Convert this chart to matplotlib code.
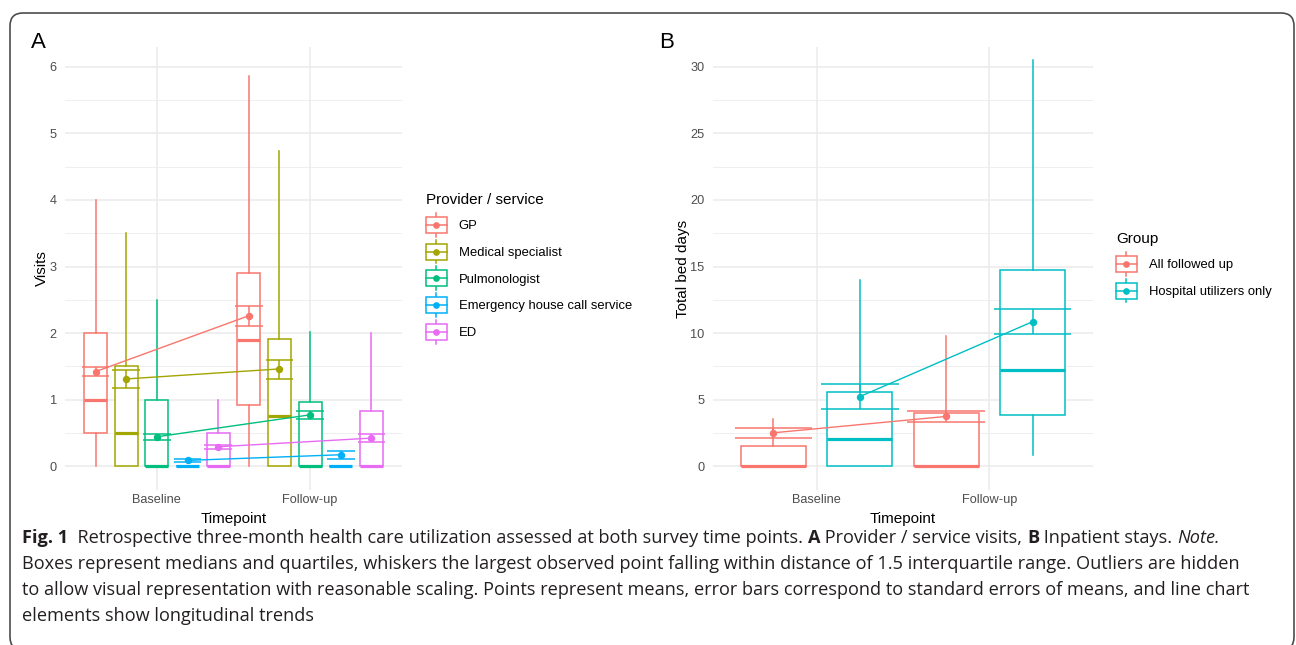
import numpy as np
import matplotlib
matplotlib.use('Agg')
import matplotlib.pyplot as plt
from matplotlib.patches import Rectangle, FancyBboxPatch
from matplotlib.lines import Line2D
from matplotlib.legend_handler import HandlerBase
from matplotlib.transforms import IdentityTransform

plt.rcParams['font.family'] = ['Liberation Sans', 'DejaVu Sans']

# данные: панель A (визиты)
timepoints = ['Baseline', 'Follow-up']
providers = ['GP', 'Medical specialist', 'Pulmonologist', 'Emergency house call service', 'ED']
colors_a = ['#F8766D', '#A3A500', '#00BF7D', '#00B0F6', '#E76BF3']
# [группа][baseline, follow-up]
a_whislo = [[0, 0], [0, 0], [0, 0], [0, 0], [0, 0]]
a_q1 = [[0.5, 0.92], [0, 0], [0, 0], [0, 0], [0, 0]]
a_med = [[1.0, 1.89], [0.5, 0.76], [0, 0], [0, 0], [0, 0]]
a_q3 = [[2.0, 2.9], [1.5, 1.91], [1.0, 0.97], [0, 0], [0.5, 0.83]]
a_whishi = [[4.0, 5.87], [3.5, 4.73], [2.5, 2.01], [0, 0], [1.0, 2.0]]
a_mean = [[1.42, 2.26], [1.31, 1.46], [0.44, 0.77], [0.085, 0.17], [0.29, 0.42]]
a_se_lo = [[1.35, 2.11], [1.17, 1.31], [0.39, 0.70], [0.065, 0.105], [0.255, 0.36]]
a_se_hi = [[1.49, 2.41], [1.44, 1.60], [0.48, 0.83], [0.105, 0.23], [0.315, 0.48]]

# данные: панель B (койко-дни)
groups = ['All followed up', 'Hospital utilizers only']
colors_b = ['#F8766D', '#00BFC4']
b_whislo = [[0, 0], [0, 0.8]]
b_q1 = [[0, 0], [0, 3.85]]
b_med = [[0, 0], [2.0, 7.25]]
b_q3 = [[1.5, 4.0], [5.6, 14.7]]
b_whishi = [[3.5, 9.75], [14.0, 30.5]]
b_mean = [[2.5, 3.73], [5.22, 10.85]]
b_se_lo = [[2.12, 3.3], [4.3, 9.95]]
b_se_hi = [[2.88, 4.15], [6.15, 11.8]]

W, H = 1296, 645
fig = plt.figure(figsize=(W / 100, H / 100), dpi=100)


def px_axes(l, t, r, b):
    return fig.add_axes([l / W, 1 - b / H, (r - l) / W, (b - t) / H])


class BoxKey(HandlerBase):
    def create_artists(self, legend, orig_handle, xdescent, ydescent, width, height, fontsize, trans):
        c = orig_handle.get_color()
        x0, w = -xdescent, width
        ym = -ydescent + height / 2
        whisk = Line2D([x0 + w / 2] * 2, [ym - 0.66 * height, ym + 0.66 * height], color=c, lw=1.1,
                       transform=trans)
        rect = Rectangle((x0, ym - 0.44 * height), w, 0.88 * height, facecolor='white', edgecolor=c, lw=1.1,
                         transform=trans)
        mid = Line2D([x0, x0 + w], [ym, ym], color=c, lw=1.1, transform=trans)
        dot = Line2D([x0 + w / 2], [ym], marker='o', ms=3.8, color=c, transform=trans)
        return [whisk, rect, mid, dot]


def draw_panel(ax, colors, whislo, q1, med, q3, whishi, mean, se_lo, se_hi):
    n = len(colors)
    offsets = (np.arange(n) - (n - 1) / 2) / n
    bw = 0.75 / n
    ew = 0.9 / n
    xs = np.arange(1, len(timepoints) + 1)
    for i, c in enumerate(colors):
        pos = xs + offsets[i]
        stats = [dict(whislo=whislo[i][j], q1=q1[i][j], med=med[i][j], q3=q3[i][j], whishi=whishi[i][j],
                      fliers=[]) for j in range(len(xs))]
        ax.bxp(stats, positions=pos, widths=bw, patch_artist=True, showcaps=False, showfliers=False,
               manage_ticks=False,
               boxprops=dict(facecolor='white', edgecolor=c, lw=1.1),
               medianprops=dict(color=c, lw=2.3, solid_capstyle='butt'),
               whiskerprops=dict(color=c, lw=1.1))
    for i, c in enumerate(colors):
        pos = xs + offsets[i]
        ax.vlines(pos, se_lo[i], se_hi[i], color=c, lw=1.1, zorder=3)
        ax.hlines(se_lo[i], pos - ew / 2, pos + ew / 2, color=c, lw=1.1, zorder=3)
        ax.hlines(se_hi[i], pos - ew / 2, pos + ew / 2, color=c, lw=1.1, zorder=3)
    for i, c in enumerate(colors):
        pos = xs + offsets[i]
        ax.plot(pos, mean[i], color=c, lw=1.0, zorder=4)
        ax.plot(pos, mean[i], 'o', color=c, ms=4.3, zorder=5)

    ax.set_xlim(0.4, 2.6)
    ax.set_xticks(xs)
    ax.set_xticklabels(timepoints)
    for s in ax.spines.values():
        s.set_visible(False)
    ax.tick_params(length=0, labelsize=9.2, labelcolor='#4D4D4D')
    ax.tick_params(axis='y', pad=6)
    ax.tick_params(axis='x', pad=3)
    ax.set_axisbelow(True)
    ax.grid(True, which='major', color='#EBEBEB', lw=1.1)
    ax.grid(True, which='minor', axis='y', color='#EBEBEB', lw=0.55)
    ax.tick_params(which='minor', length=0)
    ax.set_xlabel('Timepoint', fontsize=11, labelpad=4)


legend_kw = dict(loc='upper left', bbox_transform=fig.transFigure, frameon=False, alignment='left',
                 fontsize=9.4, title_fontsize=11, handlelength=1.6, handleheight=1.75, labelspacing=0.67,
                 handletextpad=0.9, borderpad=0, borderaxespad=0, handler_map={Line2D: BoxKey()})

# панель A
axA = px_axes(65, 47, 402, 490)
draw_panel(axA, colors_a, a_whislo, a_q1, a_med, a_q3, a_whishi, a_mean, a_se_lo, a_se_hi)
axA.set_ylim(-0.36, 6.3)
axA.set_yticks(range(7))
axA.set_yticks(np.arange(0.5, 6, 1), minor=True)
axA.set_ylabel('Visits', fontsize=11, labelpad=0.5)
hA = [Line2D([], [], color=c) for c in colors_a]
axA.legend(hA, providers, bbox_to_anchor=(426 / W, 1 - 193 / H), title='Provider / service', **legend_kw)

# панель B
axB = px_axes(713, 47, 1093, 490)
draw_panel(axB, colors_b, b_whislo, b_q1, b_med, b_q3, b_whishi, b_mean, b_se_lo, b_se_hi)
axB.set_ylim(-1.8, 31.5)
axB.set_yticks(range(0, 31, 5))
axB.set_yticks(np.arange(2.5, 30, 5), minor=True)
axB.set_ylabel('Total bed days', fontsize=11, labelpad=0.5)
hB = [Line2D([], [], color=c) for c in colors_b]
axB.legend(hB, groups, bbox_to_anchor=(1116 / W, 1 - 232 / H), title='Group', **legend_kw)

fig.text(31 / W, 1 - 48 / H, 'A', fontsize=16, va='baseline')
fig.text(659 / W, 1 - 48 / H, 'B', fontsize=16, va='baseline')

# рамка (нижний край за пределами картинки)
fig.patches.append(FancyBboxPatch((10, H - 650), 1284, 637, boxstyle='round,pad=0,rounding_size=13',
                                  facecolor='none', edgecolor='#4D4D4D', lw=1.2, transform=IdentityTransform()))

# подпись
cap_font = ['Open Sans', 'DejaVu Sans']
cap_color = '#231F20'
renderer = fig.canvas.get_renderer()
line2 = ('Boxes represent medians and quartiles, whiskers the largest observed point falling within '
         'distance of 1.5 interquartile range. Outliers are hidden')
probe = fig.text(0, 0, line2, fontsize=10, family=cap_font)
cap_size = 10 * 1218 / probe.get_window_extent(renderer).width
probe.remove()


def rich_line(x, y, parts):
    for s, weight, style in parts:
        t = fig.text(x / W, 1 - y / H, s, fontsize=cap_size, weight=weight, style=style, family=cap_font,
                     color=cap_color, va='baseline')
        x += t.get_window_extent(renderer).width


rich_line(22, 543, [('Fig. 1', 'bold', 'normal'),
                    ('  Retrospective three-month health care utilization assessed at both survey time points. ',
                     'normal', 'normal'),
                    ('A', 'bold', 'normal'), (' Provider / service visits, ', 'normal', 'normal'),
                    ('B', 'bold', 'normal'), (' Inpatient stays. ', 'normal', 'normal'),
                    ('Note.', 'normal', 'italic')])
rich_line(22, 569, [(line2, 'normal', 'normal')])
rich_line(22, 595, [('to allow visual representation with reasonable scaling. Points represent means, error bars '
                     'correspond to standard errors of means, and line chart', 'normal', 'normal')])
rich_line(22, 621, [('elements show longitudinal trends', 'normal', 'normal')])

fig.savefig('out.png', dpi=100)
